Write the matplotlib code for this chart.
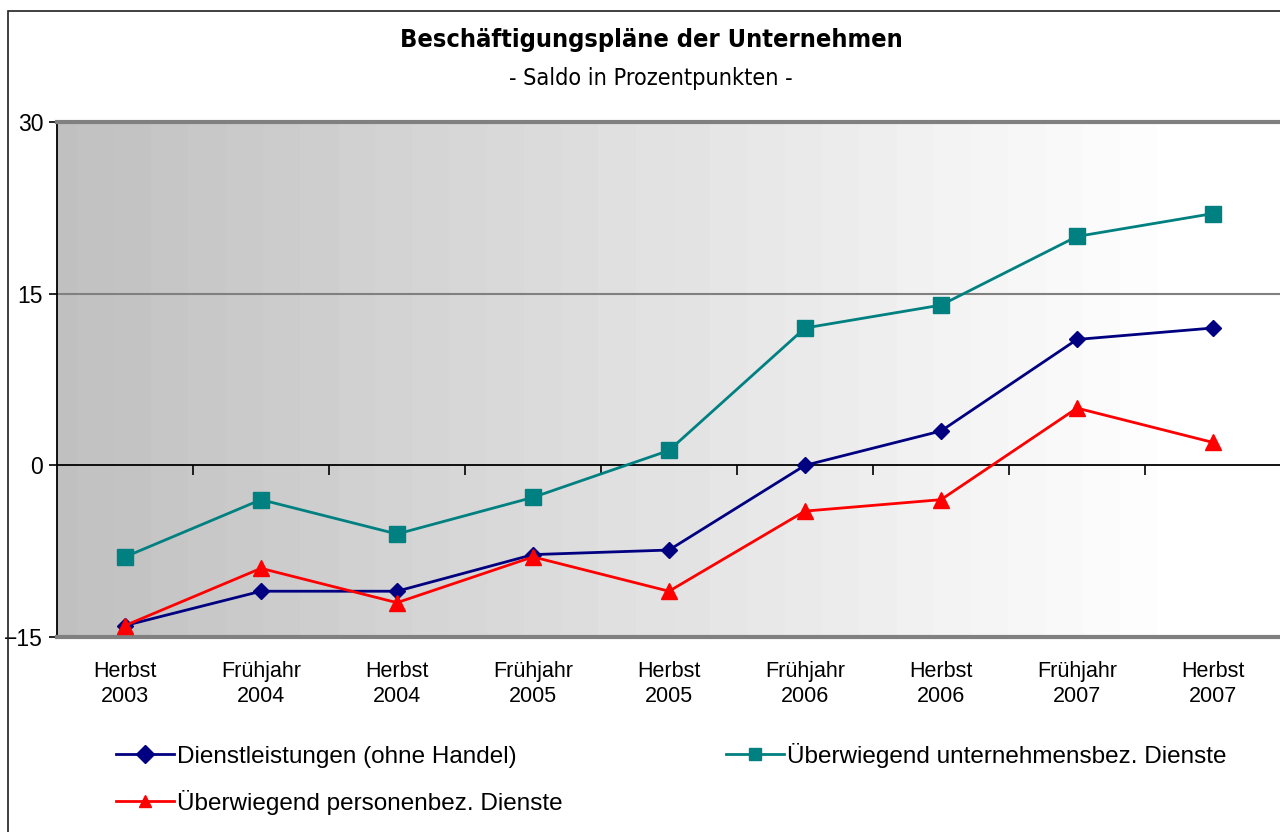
import numpy as np
import matplotlib.pyplot as plt
from matplotlib.patches import Rectangle

# Daten (Saldo in Prozentpunkten)
kategorien = ['Herbst\n2003', 'Frühjahr\n2004', 'Herbst\n2004', 'Frühjahr\n2005', 'Herbst\n2005',
              'Frühjahr\n2006', 'Herbst\n2006', 'Frühjahr\n2007', 'Herbst\n2007']
dienstleistungen = [-14, -11, -11, -7.8, -7.4, 0, 3, 11, 12]
unternehmensbez = [-8, -3, -6, -2.8, 1.3, 12, 14, 20, 22]
personenbez = [-14, -9, -12, -8, -11, -4, -3, 5, 2]

lbl_dienst = 'Dienstleistungen (ohne Handel)'
lbl_unt = 'Überwiegend unternehmensbez. Dienste'
lbl_pers = 'Überwiegend personenbez. Dienste'

W, H = 1280, 832
fig = plt.figure(figsize=(12.8, 8.32), dpi=100)
plt.rcParams['font.family'] = ['Liberation Sans', 'DejaVu Sans']

# Rahmen um das Diagramm
fig.add_artist(Rectangle((7.5 / W, -0.1), 1.2, 1 - 10.5 / H + 0.1, transform=fig.transFigure,
                         fill=False, edgecolor='#202020', lw=1.2))

ax = fig.add_axes([57 / W, (H - 637) / H, 1224 / W, 515 / H])
x = np.arange(len(kategorien))

# Hintergrund-Verlauf (dunkelgrau links -> weiss rechts)
verlauf = np.clip(0.75 + 0.25 * np.linspace(0, 1, 600) / 0.915, 0, 1)
verlauf = np.round(verlauf * 120) / 120
ax.imshow(verlauf[np.newaxis, :], extent=[0, 1, 0, 1], transform=ax.transAxes,
          aspect='auto', cmap='gray', vmin=0, vmax=1, zorder=0, interpolation='nearest')

ax.axhline(15, color='#808080', lw=1.5, zorder=1)
ax.axhline(0, color='black', lw=1.3, zorder=1)

ax.plot(x, unternehmensbez, color='#008080', lw=2, marker='s', ms=11.5, zorder=3, label=lbl_unt)
ax.plot(x, dienstleistungen, color='#000080', lw=2, marker='D', ms=8.5, zorder=4, label=lbl_dienst)
ax.plot(x, personenbez, color='#FF0000', lw=2, marker='^', ms=12, zorder=5, label=lbl_pers)

ax.set_xlim(-0.5, len(kategorien) - 0.5)
ax.set_ylim(-15, 30)
ax.set_yticks([-15, 0, 15, 30])
ax.tick_params(axis='y', direction='out', length=6, width=1.2, labelsize=16.5, pad=4)
ax.set_xticks(x)
ax.set_xticklabels(kategorien, fontsize=15.5, linespacing=1.3)
ax.tick_params(axis='x', length=0, pad=17)

for s in ['top', 'bottom']:
    ax.spines[s].set_color('#808080')
    ax.spines[s].set_linewidth(3)
ax.spines['right'].set_visible(False)
ax.spines['left'].set_linewidth(1.3)

# Teilstriche auf der Nulllinie
sec = ax.secondary_xaxis(1 / 3)
sec.set_xticks(x[:-1] + 0.5)
sec.set_xticklabels([])
sec.tick_params(axis='x', direction='out', length=7, width=1.2)
sec.spines['bottom'].set_visible(False)

fig.text(651 / W, 1 - 40 / H, 'Beschäftigungspläne der Unternehmen', ha='center', va='center',
         fontsize=18.2, fontweight='bold', family='DejaVu Sans', fontstretch='condensed')
fig.text(651 / W, 1 - 78 / H, '- Saldo in Prozentpunkten -', ha='center', va='center',
         fontsize=16.8, family='DejaVu Sans', fontstretch='condensed')

h, l = ax.get_legend_handles_labels()
reihenfolge = [1, 2, 0]
leg = fig.legend([h[i] for i in reihenfolge], [l[i] for i in reihenfolge], ncol=2,
                 loc='upper left', bbox_to_anchor=(111 / W, 1 - 738 / H), frameon=False,
                 fontsize=17.5, handlelength=2.4, handletextpad=0.12, columnspacing=6.7,
                 labelspacing=0.9, borderaxespad=0, borderpad=0.2)
for lh in leg.legend_handles:
    lh.set_markersize(9)

fig.savefig('out.png', dpi=100)
